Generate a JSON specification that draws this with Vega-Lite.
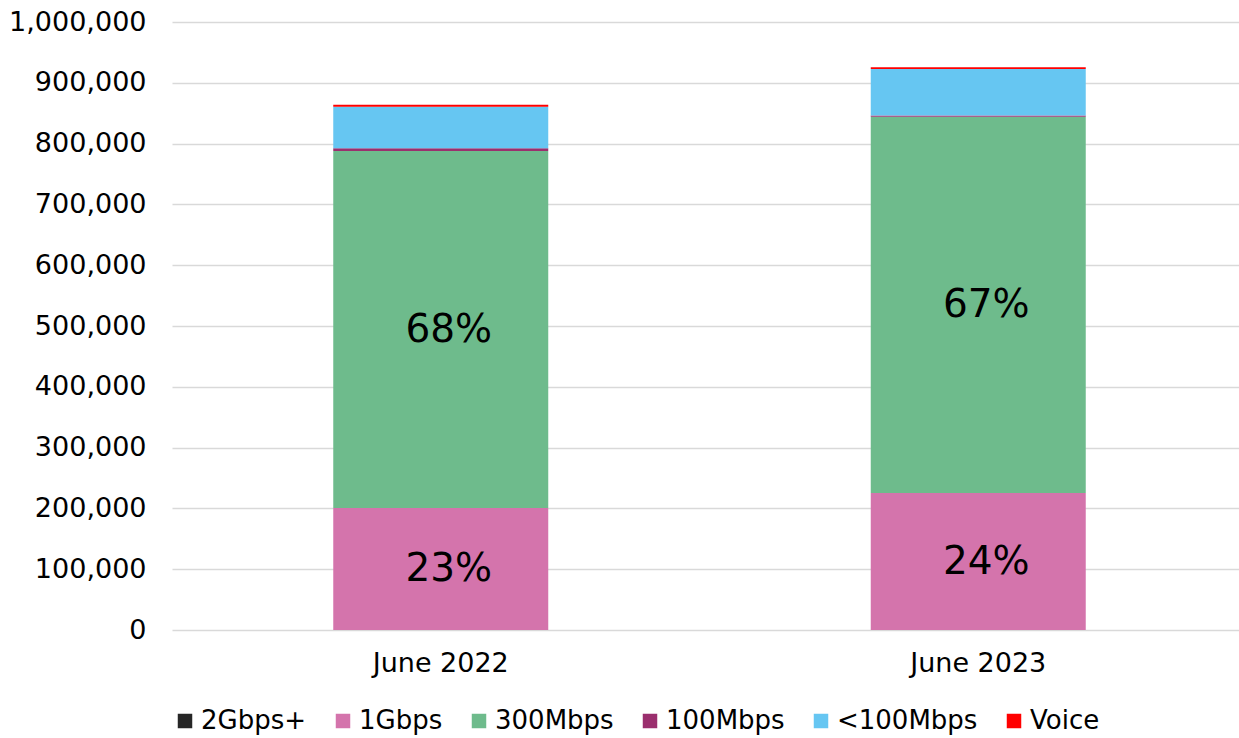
{
  "$schema": "https://vega.github.io/schema/vega-lite/v6.json",
  "autosize": "none",
  "width": 1067,
  "height": 608,
  "padding": {"left": 172, "top": 22, "right": 0, "bottom": 108},
  "background": "white",
  "config": {
    "font": "DejaVu Sans",
    "view": {"stroke": null},
    "axis": {"labelFont": "DejaVu Sans", "labelColor": "#000000"},
    "legend": {"labelFont": "DejaVu Sans", "labelColor": "#000000"}
  },
  "data": {
    "values": [
      {"period": "June 2022", "tier": "2Gbps+", "k": 0, "value": 0, "label": null},
      {"period": "June 2022", "tier": "1Gbps", "k": 1, "value": 200500, "label": "23%"},
      {"period": "June 2022", "tier": "300Mbps", "k": 2, "value": 587300, "label": "68%"},
      {"period": "June 2022", "tier": "100Mbps", "k": 3, "value": 4500, "label": null},
      {"period": "June 2022", "tier": "<100Mbps", "k": 4, "value": 68400, "label": null},
      {"period": "June 2022", "tier": "Voice", "k": 5, "value": 3300, "label": null},
      {"period": "June 2023", "tier": "2Gbps+", "k": 0, "value": 0, "label": null},
      {"period": "June 2023", "tier": "1Gbps", "k": 1, "value": 225300, "label": "24%"},
      {"period": "June 2023", "tier": "300Mbps", "k": 2, "value": 618900, "label": "67%"},
      {"period": "June 2023", "tier": "100Mbps", "k": 3, "value": 2000, "label": null},
      {"period": "June 2023", "tier": "<100Mbps", "k": 4, "value": 76600, "label": null},
      {"period": "June 2023", "tier": "Voice", "k": 5, "value": 2800, "label": null}
    ]
  },
  "transform": [
    {"stack": "value", "groupby": ["period"], "sort": [{"field": "k", "order": "ascending"}], "as": ["y0", "y1"]},
    {"calculate": "(datum.y0 + datum.y1) / 2", "as": "ymid"}
  ],
  "encoding": {
    "x": {
      "field": "period",
      "type": "nominal",
      "sort": ["June 2022", "June 2023"],
      "scale": {"range": [0, 1075], "paddingInner": 0.6, "paddingOuter": 0.3},
      "axis": {
        "title": null,
        "labelAngle": 0,
        "labelFontSize": 27,
        "labelPadding": 20,
        "domain": false,
        "ticks": false,
        "grid": false
      }
    }
  },
  "layer": [
    {
      "mark": {"type": "bar"},
      "encoding": {
        "y": {
          "field": "y0",
          "type": "quantitative",
          "scale": {"domain": [0, 1000000], "nice": false},
          "axis": {
            "title": null,
            "values": [0, 100000, 200000, 300000, 400000, 500000, 600000, 700000, 800000, 900000, 1000000],
            "format": ",d",
            "labelFontSize": 27,
            "labelPadding": 26,
            "domain": false,
            "ticks": false,
            "grid": true,
            "gridColor": "#d9d9d9",
            "gridWidth": 1.5
          }
        },
        "y2": {"field": "y1"},
        "color": {
          "field": "tier",
          "type": "nominal",
          "sort": ["2Gbps+", "1Gbps", "300Mbps", "100Mbps", "<100Mbps", "Voice"],
          "scale": {
            "domain": ["2Gbps+", "1Gbps", "300Mbps", "100Mbps", "<100Mbps", "Voice"],
            "range": ["#262626", "#D474AC", "#6EBB8C", "#9B2F6E", "#66C6F2", "#FF0000"]
          },
          "legend": {
            "title": null,
            "orient": "none",
            "direction": "horizontal",
            "legendX": 0,
            "legendY": 686,
            "symbolType": "square",
            "symbolSize": 210,
            "symbolStrokeWidth": 0,
            "labelFontSize": 26,
            "labelOffset": 3,
            "columnPadding": 23,
            "labelLimit": 300
          }
        }
      }
    },
    {
      "transform": [{"filter": "datum.label != null"}],
      "mark": {"type": "text", "fontSize": 39, "color": "#000000", "dx": 8, "baseline": "middle", "align": "center"},
      "encoding": {
        "y": {"field": "ymid", "type": "quantitative"},
        "text": {"field": "label", "type": "nominal"}
      }
    }
  ]
}
